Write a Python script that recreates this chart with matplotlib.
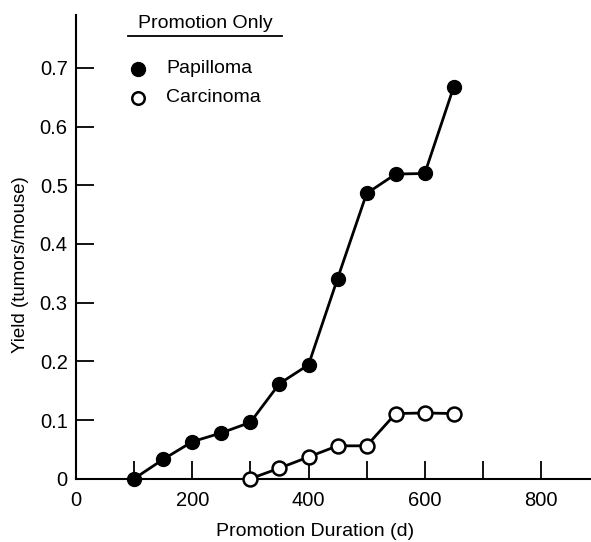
import matplotlib
matplotlib.use("Agg")
import matplotlib.pyplot as plt
from matplotlib.lines import Line2D

plt.rcParams['font.family'] = ['Liberation Sans', 'DejaVu Sans']

# data
pap_days = [100, 150, 200, 250, 300, 350, 400, 450, 500, 550, 600, 650]
pap_yield = [0.0, 0.033, 0.063, 0.078, 0.096, 0.162, 0.194, 0.341, 0.486, 0.519, 0.520, 0.668]
car_days = [300, 350, 400, 450, 500, 550, 600, 650]
car_yield = [0.0, 0.018, 0.037, 0.056, 0.056, 0.111, 0.112, 0.111]

x_ticks = [0, 200, 400, 600, 800]
y_ticks = [0, 0.1, 0.2, 0.3, 0.4, 0.5, 0.6, 0.7]
y_labels = ["0", "0.1", "0.2", "0.3", "0.4", "0.5", "0.6", "0.7"]

fig = plt.figure(figsize=(5.91, 5.42), dpi=100)
ax = fig.add_axes([76 / 591, 1 - 478.7 / 542, 1 - 76 / 591, (478.7 - 15) / 542])

ax.plot(pap_days, pap_yield, color='black', lw=2, marker='o', ms=10,
        mfc='black', mec='black', zorder=3, clip_on=False)
ax.plot(car_days, car_yield, color='black', lw=2, marker='o', ms=10,
        mfc='white', mec='black', mew=1.8, zorder=3, clip_on=False)

ax.set_xlim(0, 886)
ax.set_ylim(0, 0.79)
ax.set_xticks(x_ticks)
ax.set_xticks(range(100, 900, 100), minor=True)
ax.set_yticks(y_ticks)
ax.set_yticklabels(y_labels)
ax.tick_params(axis='x', which='both', direction='in', length=13, width=1.3, labelsize=14.5, pad=9)
ax.tick_params(axis='y', direction='in', length=13, width=1.3, labelsize=14.5, pad=6)
for s in ['top', 'right']:
    ax.spines[s].set_visible(False)
for s in ['left', 'bottom']:
    ax.spines[s].set_linewidth(1.5)

ax.set_xlabel("Promotion Duration (d)", fontsize=14)
ax.xaxis.set_label_coords(0.464, -0.095)
ax.set_ylabel("Yield (tumors/mouse)", fontsize=13.5)
ax.yaxis.set_label_coords(-0.092, 0.461)

# hand-made legend
def fx(px):
    return px / 591

def fy(py):
    return 1 - py / 542

fig.text(fx(205), fy(23), "Promotion Only", fontsize=14, ha='center', va='center')
fig.add_artist(Line2D([fx(128), fx(282)], [fy(36), fy(36)], color='black', lw=1.3))
fig.add_artist(Line2D([fx(138)], [fy(69)], marker='o', ms=10, mfc='black', mec='black', ls=''))
fig.add_artist(Line2D([fx(138)], [fy(98)], marker='o', ms=9, mfc='white', mec='black', mew=1.8, ls=''))
fig.text(fx(166), fy(69), "Papilloma", fontsize=14, va='center')
fig.text(fx(166), fy(98), "Carcinoma", fontsize=14, va='center')

fig.savefig("out.png", dpi=100)
